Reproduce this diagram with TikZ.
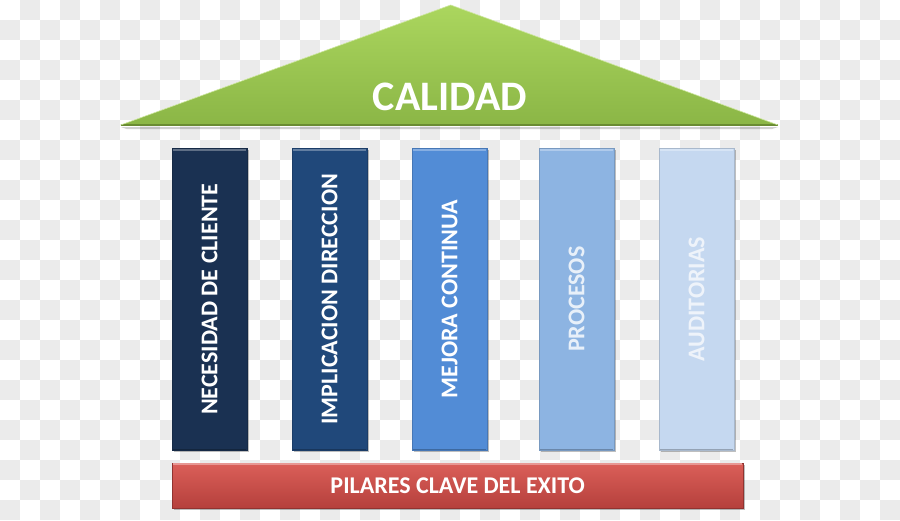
\documentclass[tikz,border=0pt]{standalone}
\usepackage{fontspec}
\setmainfont{Carlito}
\usetikzlibrary{shadows}
\definecolor{checkgray}{HTML}{EBEBEB}
\definecolor{roofTop}{HTML}{ABD65E}
\definecolor{roofBot}{HTML}{8BB646}
\definecolor{roofEdge}{HTML}{6A8C33}
\definecolor{colA}{HTML}{1A3152}
\definecolor{colB}{HTML}{20487A}
\definecolor{colC}{HTML}{528CD6}
\definecolor{colD}{HTML}{8DB4E2}
\definecolor{colE}{HTML}{C5D8F0}
\definecolor{barTop}{HTML}{DB5F59}
\definecolor{barBot}{HTML}{B5403C}
\begin{document}
\begin{tikzpicture}[x=1pt,y=-1pt,
  pillar/.style={rectangle, inner sep=0pt, anchor=north west,
    minimum width=75pt, minimum height=302pt,
    drop shadow={shadow xshift=1.5pt, shadow yshift=-1.5pt, fill=black, opacity=.25}},
  plabel/.style={rotate=90, font=\fontsize{24}{26}\selectfont\bfseries, text=white, inner sep=0pt},
  bevel/.style={line width=2.5pt, line cap=butt}
]
\useasboundingbox (0,0) rectangle (900,520);
% checkerboard background
\fill[white] (0,0) rectangle (900,520);
\foreach \j in {0,2,...,24} \foreach \i in {1,3,...,43}
  \fill[checkgray] (\i*20,\j*20) rectangle +(20,20);
\foreach \j in {1,3,...,25} \foreach \i in {0,2,...,44}
  \fill[checkgray] (\i*20,\j*20) rectangle +(20,20);

% roof
\coordinate (rl) at (120.7,125);
\coordinate (ra) at (450.7,5);
\coordinate (rr) at (778,125);
\fill[black,opacity=.18] ([yshift=-2pt]rl) -- ([yshift=-2pt]rr) -- ([yshift=-4pt,xshift=-6pt]rr) -- ([yshift=-4pt,xshift=6pt]rl) -- cycle;
\shade[top color=roofTop, bottom color=roofBot] (rl) -- (ra) -- (rr) -- cycle;
\draw[roofEdge, line width=1.2pt] (rl) -- (rr);
\draw[roofTop!60!white, line width=0.6pt] (rl) -- (ra) -- (rr);
\node[font=\fontsize{42}{46}\selectfont\bfseries, text=white] (calidad) at (450,97) {CALIDAD};

% pillars
\node[pillar, fill=colA] (p1) at (172,148) {};
\node[pillar, fill=colB] (p2) at (292,148) {};
\node[pillar, fill=colC] (p3) at (412,148) {};
\node[pillar, fill=colD] (p4) at (539,148) {};
\node[pillar, fill=colE] (p5) at (659,148) {};
\foreach \p/\c in {p1/colA,p2/colB,p3/colC,p4/colD,p5/colE}{
  \draw[\c!70!white, bevel] ([xshift=1pt,yshift=-1.25pt]\p.north west) -- ([xshift=-1pt,yshift=-1.25pt]\p.north east);
  \draw[\c!75!black, line width=1.5pt] ([xshift=1pt,yshift=0.75pt]\p.south west) -- ([xshift=-1pt,yshift=0.75pt]\p.south east);
  \draw[\c!85!black, line width=0.6pt] (\p.north west) rectangle (\p.south east);
}
\node[plabel] (t1) at (p1.center) {NECESIDAD DE CLIENTE};
\node[plabel] (t2) at (p2.center) {IMPLICACION DIRECCION};
\node[plabel] (t3) at (p3.center) {MEJORA CONTINUA};
\node[plabel, text=white!80!colD] (t4) at (p4.center) {PROCESOS};
\node[plabel, text=white!70!colE] (t5) at (p5.center) {AUDITORIAS};

% base bar
\node[rectangle, inner sep=0pt, anchor=north west, minimum width=570.7pt, minimum height=45.3pt,
  top color=barTop, bottom color=barBot, draw=barBot!80!black, line width=0.6pt,
  drop shadow={shadow xshift=1.5pt, shadow yshift=-1.5pt, fill=black, opacity=.25}] (bar) at (172,462.7) {};
\draw[barTop!65!white, bevel] ([xshift=1pt,yshift=-1.25pt]bar.north west) -- ([xshift=-1pt,yshift=-1.25pt]bar.north east);
\node[font=\fontsize{24}{26}\selectfont\bfseries, text=white] (pilares) at (bar.center) {PILARES CLAVE DEL EXITO};
\end{tikzpicture}
\end{document}
